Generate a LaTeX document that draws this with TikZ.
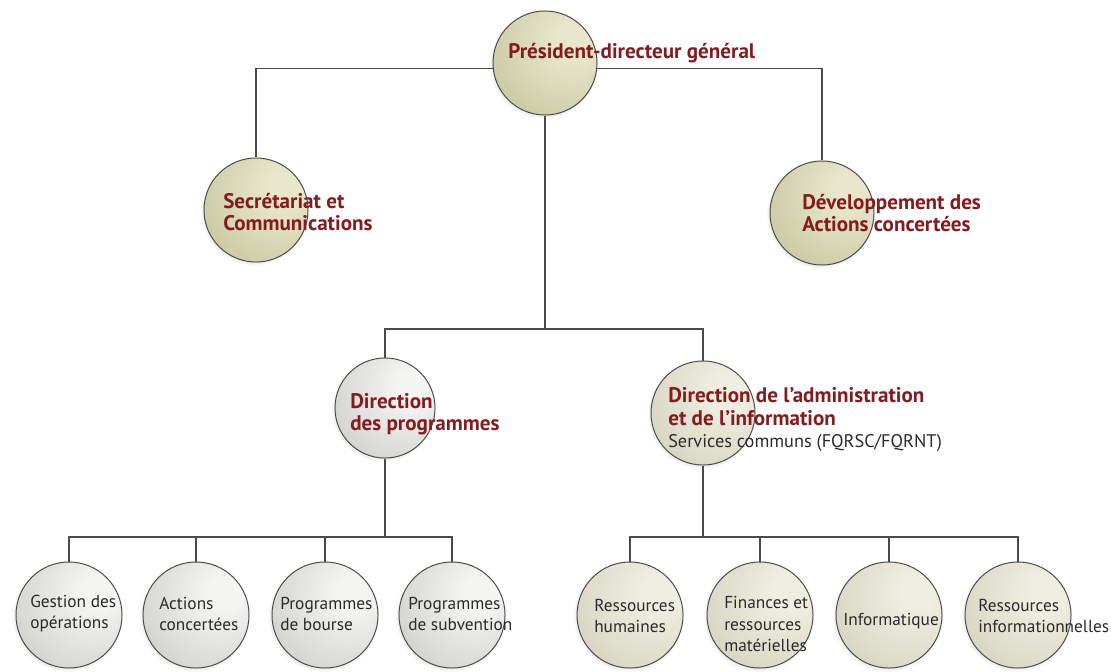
\documentclass[tikz,border=0pt]{standalone}
\usepackage{fontspec}
\setmainfont{PT Sans}
\usetikzlibrary{backgrounds,shadows}

\definecolor{titlered}{HTML}{841B1E}
\definecolor{linegrey}{HTML}{4A4A4A}
\definecolor{unittext}{HTML}{2A2A2A}
\definecolor{khakiin}{HTML}{E8E7CC}
\definecolor{khakiout}{HTML}{B5B385}
\definecolor{greyin}{HTML}{F4F4F2}
\definecolor{greyout}{HTML}{B9B9B5}
\definecolor{beigein}{HTML}{EFEEE2}
\definecolor{beigeout}{HTML}{C6C3A9}

\pgfdeclareradialshading{khakiball}{\pgfpoint{15bp}{12bp}}{color(0bp)=(khakiin); color(8bp)=(khakiin); color(62bp)=(khakiout); color(100bp)=(khakiout)}
\pgfdeclareradialshading{greyball}{\pgfpoint{15bp}{12bp}}{color(0bp)=(greyin); color(8bp)=(greyin); color(62bp)=(greyout); color(100bp)=(greyout)}
\pgfdeclareradialshading{beigeball}{\pgfpoint{15bp}{12bp}}{color(0bp)=(beigein); color(8bp)=(beigein); color(62bp)=(beigeout); color(100bp)=(beigeout)}

\begin{document}
\begin{tikzpicture}[x=0.025cm,y=-0.025cm,inner sep=0pt,
  ball/.style={circle,draw=linegrey,line width=0.7pt,minimum size=2.6cm,shade,shading=#1,
    circular drop shadow={shadow xshift=-1pt,shadow yshift=-1pt,shadow scale=1.05,opacity=0.3}},
  head/.style={anchor=west,align=left,text=titlered,font=\bfseries\fontsize{15}{16}\selectfont},
  unit/.style={anchor=west,align=left,text=unittext,font=\fontsize{12.3}{15}\selectfont},
  link/.style={draw=linegrey,line width=1.2pt}]

\useasboundingbox (0,0) rectangle (1111,671);

% top level
\node[ball=khakiball] (pdg) at (545,63) {};
\node[ball=khakiball] (secr) at (256,210) {};
\node[ball=khakiball] (devac) at (822,213) {};

% directions
\node[ball=greyball,minimum size=2.5cm] (dprog) at (385,408) {};
\node[ball=beigeball] (dadmin) at (703,413) {};

% services under the programmes
\node[ball=greyball,minimum size=2.65cm] (gestop) at (69,615) {};
\node[ball=greyball,minimum size=2.65cm] (actconc) at (196,615) {};
\node[ball=greyball,minimum size=2.65cm] (bourse) at (325,615) {};
\node[ball=greyball,minimum size=2.65cm] (subv) at (452,615) {};

% services under the administration
\node[ball=beigeball,minimum size=2.65cm] (rh) at (630,615) {};
\node[ball=beigeball,minimum size=2.65cm] (finmat) at (760,615) {};
\node[ball=beigeball,minimum size=2.65cm] (info) at (889,615) {};
\node[ball=beigeball,minimum size=2.65cm] (resinfo) at (1018,615) {};

\coordinate (topbar) at ([yshift=-4pt]pdg.center);
\coordinate (midbar) at (pdg |- 0,329);
\coordinate (lowleft) at (dprog |- 0,537);
\coordinate (lowright) at (dadmin |- 0,537);

\begin{scope}[on background layer]
\draw[link] (secr.north) |- (topbar) -| (devac.north);
\draw[link] (pdg.south) -- (midbar);
\draw[link] (dprog.north) |- (midbar) -| (dadmin.north);

\draw[link] (dprog.south) -- (lowleft);
\draw[link] (gestop.north) |- (subv.north |- lowleft) -- (subv.north);
\draw[link] (actconc.north) -- (actconc.north |- lowleft);
\draw[link] (bourse.north) -- (bourse.north |- lowleft);

\draw[link] (dadmin.south) -- (lowright);
\draw[link] (rh.north) |- (resinfo.north |- lowright) -- (resinfo.north);
\draw[link] (finmat.north) -- (finmat.north |- lowright);
\draw[link] (info.north) -- (info.north |- lowright);
\end{scope}

% labels
\node[head] (pdgtxt) at (508,53) {Président-directeur général};
\node[head] (secrtxt) at (223,212) {Secrétariat et\\Communications};
\node[head] (devactxt) at (802,213) {Développement des\\Actions concertées};
\node[head] (dprogtxt) at (350,414) {Direction\\des programmes};
\node[head] (dadmintxt) at (668,420) {Direction de l’administration\\et de l’information\\{\mdseries\color{unittext}\fontsize{13}{15}\selectfont Services communs (FQRSC/FQRNT)}};

\node[unit] (gestoptxt) at (30,614) {Gestion des\\opérations};
\node[unit] (actconctxt) at (159,614) {Actions\\concertées};
\node[unit] (boursetxt) at (280,614) {Programmes\\de bourse};
\node[unit] (subvtxt) at (408,614) {Programmes\\de subvention};

\node[unit] (rhtxt) at (594,616) {Ressources\\humaines};
\node[unit] (finmattxt) at (724,624) {Finances et\\ressources\\matérielles};
\node[unit] (infotxt) at (843,621) {Informatique};
\node[unit] (resinfotxt) at (978,616) {Ressources\\informationnelles};

\end{tikzpicture}
\end{document}
